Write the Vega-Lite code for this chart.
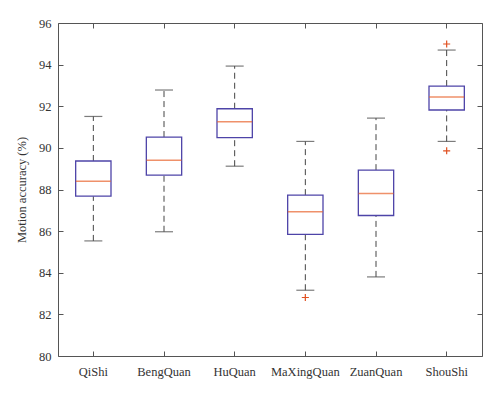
{
  "$schema": "https://vega.github.io/schema/vega-lite/v6.json",
  "width": 424,
  "height": 333,
  "autosize": {"type": "none"},
  "padding": {"left": 58, "top": 23, "right": 18, "bottom": 38},
  "background": "white",
  "config": {
    "view": {"stroke": "#555", "strokeWidth": 1},
    "font": "Times New Roman, Liberation Serif, serif",
    "axis": {"grid": false, "domain": false, "labelFont": "Times New Roman, Liberation Serif, serif", "titleFont": "Times New Roman, Liberation Serif, serif", "labelFontSize": 12.5, "titleFontSize": 12.5, "labelColor": "#333", "titleColor": "#333", "titleFontWeight": "normal", "tickColor": "#555", "tickSize": -5}
  },
  "datasets": {
    "boxes": [
      {"style": "QiShi", "lower": 85.53, "q1": 87.68, "median": 88.4, "q3": 89.37, "upper": 91.51},
      {"style": "BengQuan", "lower": 85.97, "q1": 88.69, "median": 89.41, "q3": 90.52, "upper": 92.78},
      {"style": "HuQuan", "lower": 89.12, "q1": 90.49, "median": 91.26, "q3": 91.88, "upper": 93.93},
      {"style": "MaXingQuan", "lower": 83.16, "q1": 85.84, "median": 86.93, "q3": 87.73, "upper": 90.31},
      {"style": "ZuanQuan", "lower": 83.8, "q1": 86.75, "median": 87.81, "q3": 88.93, "upper": 91.43},
      {"style": "ShouShi", "lower": 90.31, "q1": 91.82, "median": 92.44, "q3": 92.97, "upper": 94.7}
    ],
    "outliers": [
      {"style": "MaXingQuan", "value": 82.81},
      {"style": "ShouShi", "value": 94.99},
      {"style": "ShouShi", "value": 89.86}
    ]
  },
  "layer": [
    {
      "data": {"name": "boxes"},
      "layer": [
        {
          "mark": {"type": "rule", "color": "#444", "strokeDash": [6, 4], "strokeWidth": 1},
          "encoding": {
            "x": {"field": "style", "type": "nominal", "sort": ["QiShi", "BengQuan", "HuQuan", "MaXingQuan", "ZuanQuan", "ShouShi"], "scale": {"paddingInner": 0, "paddingOuter": 0},
                  "axis": {"title": null, "labelAngle": 0, "labelPadding": 14, "orient": "bottom"}},
            "y": {"field": "q3", "type": "quantitative", "scale": {"domain": [80, 96], "nice": false, "zero": false},
                  "axis": {"title": "Motion accuracy (%)", "values": [80, 82, 84, 86, 88, 90, 92, 94, 96], "labelPadding": 12, "titlePadding": 10, "orient": "left"}},
            "y2": {"field": "upper"}
          }
        },
        {
          "mark": {"type": "rule", "color": "#444", "strokeDash": [6, 4], "strokeWidth": 1},
          "encoding": {
            "x": {"field": "style", "type": "nominal", "sort": ["QiShi", "BengQuan", "HuQuan", "MaXingQuan", "ZuanQuan", "ShouShi"]},
            "y": {"field": "lower", "type": "quantitative"},
            "y2": {"field": "q1"}
          }
        },
        {
          "mark": {"type": "tick", "color": "#444", "size": 18, "thickness": 1.2},
          "encoding": {
            "x": {"field": "style", "type": "nominal", "sort": ["QiShi", "BengQuan", "HuQuan", "MaXingQuan", "ZuanQuan", "ShouShi"]},
            "y": {"field": "upper", "type": "quantitative"}
          }
        },
        {
          "mark": {"type": "tick", "color": "#444", "size": 18, "thickness": 1.2},
          "encoding": {
            "x": {"field": "style", "type": "nominal", "sort": ["QiShi", "BengQuan", "HuQuan", "MaXingQuan", "ZuanQuan", "ShouShi"]},
            "y": {"field": "lower", "type": "quantitative"}
          }
        },
        {
          "mark": {"type": "bar", "fill": "white", "stroke": "#4e44a8", "strokeWidth": 1.3, "width": {"band": 0.5}},
          "encoding": {
            "x": {"field": "style", "type": "nominal", "sort": ["QiShi", "BengQuan", "HuQuan", "MaXingQuan", "ZuanQuan", "ShouShi"]},
            "y": {"field": "q1", "type": "quantitative"},
            "y2": {"field": "q3"}
          }
        },
        {
          "mark": {"type": "tick", "color": "#e8632b", "size": 35, "thickness": 1.5},
          "encoding": {
            "x": {"field": "style", "type": "nominal", "sort": ["QiShi", "BengQuan", "HuQuan", "MaXingQuan", "ZuanQuan", "ShouShi"]},
            "y": {"field": "median", "type": "quantitative"}
          }
        }
      ]
    },
    {
      "data": {"name": "outliers"},
      "mark": {"type": "point", "shape": "M-1,0H1M0,-1V1", "filled": false, "stroke": "#e05020", "strokeWidth": 1.2, "size": 50, "opacity": 1},
      "encoding": {
        "x": {"field": "style", "type": "nominal", "sort": ["QiShi", "BengQuan", "HuQuan", "MaXingQuan", "ZuanQuan", "ShouShi"],
              "axis": {"orient": "top", "labels": false, "title": null}},
        "y": {"field": "value", "type": "quantitative",
              "axis": {"orient": "right", "labels": false, "title": null, "values": [80, 82, 84, 86, 88, 90, 92, 94, 96]}}
      }
    }
  ],
  "resolve": {"axis": {"x": "independent", "y": "independent"}}
}
